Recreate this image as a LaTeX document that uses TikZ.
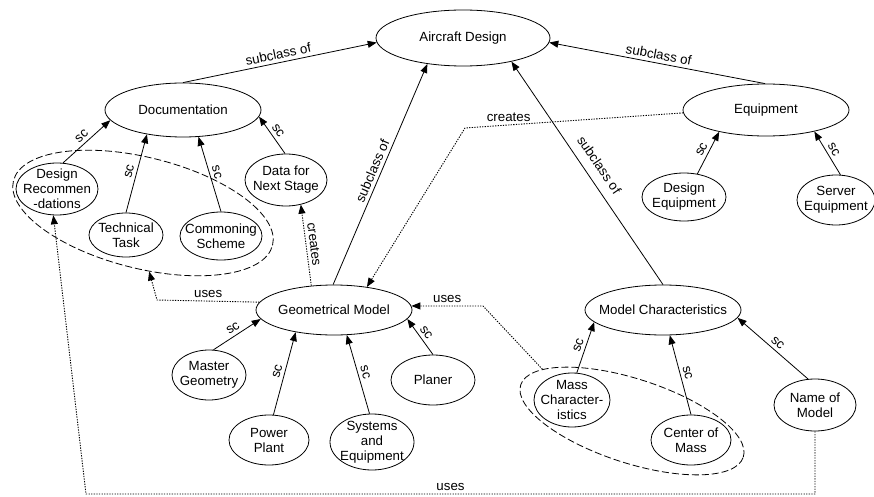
\documentclass[tikz,border=0pt]{standalone}
\usepackage{fontspec}
\setmainfont{Liberation Sans}
\usetikzlibrary{shapes.geometric,arrows.meta}

\tikzset{
  cls/.style={draw, ellipse, inner sep=0pt},
  grp/.style={draw, ellipse, inner sep=0pt, dash pattern=on 7pt off 3pt},
  every label/.style={align=center, inner sep=0pt},
  isa/.style={-{Triangle[length=9pt,width=7pt]}},
  rel/.style={-{Triangle[length=9pt,width=7pt]}, line width=0.9pt, dash pattern=on 1.3pt off 1.3pt},
}

\begin{document}
\begin{tikzpicture}[x=1pt, y=-1pt, line width=0.8pt, font=\fontsize{13.3}{15}\selectfont]
\useasboundingbox (0,0) rectangle (874,497);

\node[cls, minimum width=174, minimum height=56, label=center:{Aircraft Design}] (ad) at (463,38) {};
\node[cls, minimum width=156, minimum height=54, label=center:{Documentation}] (doc) at (183,110) {};
\node[cls, minimum width=166, minimum height=52, label=center:{Equipment}] (eq) at (766,110) {};
\node[cls, minimum width=82, minimum height=52, label=center:{Design\\Recommen\\-dations}] (dr) at (57,189) {};
\node[cls, minimum width=74, minimum height=44, label=center:{Technical\\Task}] (tt) at (126,235) {};
\node[cls, minimum width=82, minimum height=48, label=center:{Commoning\\Scheme}] (cs) at (221,236) {};
\node[cls, minimum width=82, minimum height=52, label=center:{Data for\\Next Stage}] (dns) at (286,180) {};
\node[cls, minimum width=84, minimum height=48, label=center:{Design\\Equipment}] (de) at (684,197) {};
\node[cls, minimum width=78, minimum height=50, label=center:{Server\\Equipment}] (se) at (836,200) {};
\node[cls, minimum width=156, minimum height=50, label=center:{Geometrical Model}] (gm) at (334,310) {};
\node[cls, minimum width=74, minimum height=50, label=center:{Master\\Geometry}] (mg) at (209,375) {};
\node[cls, minimum width=80, minimum height=50, label=center:{Power\\Plant}] (pp) at (269,440) {};
\node[cls, minimum width=84, minimum height=56, label=center:{Systems\\and\\Equipment}] (sys) at (372,442) {};
\node[cls, minimum width=84, minimum height=50, label=center:{Planer}] (pl) at (433,380) {};
\node[cls, minimum width=156, minimum height=50, label=center:{Model Characteristics}] (mc) at (663,310) {};
\node[cls, minimum width=76, minimum height=54, label=center:{Mass\\Character-\\istics}] (mass) at (572,400) {};
\node[cls, minimum width=80, minimum height=50, label=center:{Center of\\Mass}] (com) at (691,440) {};
\node[cls, minimum width=82, minimum height=52, label=center:{Name of\\Model}] (nm) at (815,405) {};
\node[grp, rotate=-14, minimum width=267, minimum height=111] (grpA) at (143,213) {};
\node[grp, rotate=-18, minimum width=234, minimum height=84] (grpB) at (632,421) {};

\draw[isa] (doc.north) -- node[sloped, above] {subclass of} (ad.183);
\draw[isa] (eq.92) -- node[sloped, above] {subclass of} (ad.357);
\draw[isa] (gm.92) -- node[sloped, above] {subclass of} (ad.216);
\draw[isa] (mc.north) -- node[sloped, above=6pt] {subclass of} (ad.334);

\draw[isa] (dr.77) -- node[sloped, above] {sc} (doc.188);
\draw[isa] (tt.north) -- node[sloped, above] {sc} (doc.214);
\draw[isa] (cs.north) -- node[sloped, above] {sc} (doc.300);
\draw[isa] (dns.92) -- node[sloped, above] {sc} (doc.355);
\draw[isa] (de.60) -- node[sloped, above] {sc} (eq.205);
\draw[isa] (se.80) -- node[sloped, above] {sc} (eq.336);
\draw[isa] (mg.80) -- node[sloped, above] {sc} (gm.187);
\draw[isa] (pp.80) -- node[sloped, above] {sc} (gm.210);
\draw[isa] (sys.95) -- node[sloped, above] {sc} (gm.297);
\draw[isa] (pl.north) -- node[sloped, above] {sc} (gm.353);
\draw[isa] (mass.80) -- node[sloped, above] {sc} (mc.190);
\draw[isa] (com.north) -- node[sloped, above] {sc} (mc.285);
\draw[isa] (nm.105) -- node[sloped, above] {sc} (mc.354);

\coordinate (c1) at (465,128);
\coordinate (c2) at (157,300);
\coordinate (c3) at (483,306);
\coordinate (c4) at (815,494);
\coordinate (c5) at (86,494);
\draw[rel] (gm.133) -- node[sloped, above] {creates} (dns.301);
\draw[rel] (eq.182) -- node[pos=.8, above] {creates} (c1) -- (gm.35);
\draw[rel] (gm.174) -- node[above] {uses} (c2) -- (grpA.290);
\draw[rel] (grpB.168) -- (c3) -- node[above] {uses} (gm.3);
\draw[rel] (nm.south) -- (c4) -- node[above] {uses} (c5) -- (dr.262);
\end{tikzpicture}
\end{document}
